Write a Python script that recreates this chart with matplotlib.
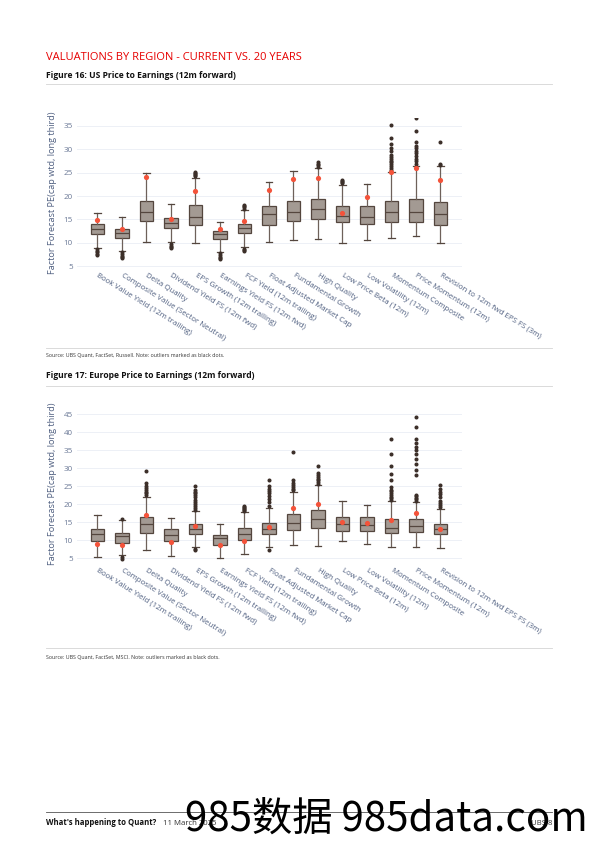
import matplotlib
matplotlib.use('Agg')
import matplotlib.pyplot as plt
from matplotlib.lines import Line2D

plt.rcParams['font.family'] = ['Open Sans', 'DejaVu Sans']

factors = ['Book Value Yield (12m trailing)', 'Composite Value (Sector Neutral)',
           'Delta Quality', 'Dividend Yield FS (12m fwd)', 'EPS Growth (12m trailing)',
           'Earnings Yield FS (12m fwd)', 'FCF Yield (12m trailing)',
           'Float Adjusted Market Cap', 'Fundamental Growth', 'High Quality',
           'Low Price Beta (12m)', 'Low Volatility (12m)', 'Momentum Composite',
           'Price Momentum (12m)', 'Revision to 12m fwd EPS FS (3m)']

# US - 20 year distribution (whisker low, q1, median, q3, whisker high) and current value
us_lo = [8.9, 8.3, 10.2, 10.1, 10.0, 8.1, 9.0, 10.2, 10.5, 10.9, 9.9, 10.6, 11.0, 11.5, 9.9]
us_q1 = [11.9, 11.0, 14.6, 13.1, 13.9, 10.7, 12.1, 13.9, 14.6, 15.0, 14.4, 14.1, 14.4, 14.4, 13.9]
us_med = [12.9, 12.1, 16.6, 14.3, 15.6, 11.8, 13.1, 16.1, 16.6, 17.3, 15.7, 15.6, 16.6, 16.5, 16.1]
us_q3 = [14.1, 12.9, 18.9, 15.4, 18.0, 12.6, 14.1, 17.9, 19.0, 19.4, 17.8, 17.8, 19.0, 19.3, 18.7]
us_hi = [16.4, 15.5, 24.9, 18.4, 23.9, 14.4, 17.0, 23.0, 25.4, 25.9, 22.4, 22.6, 25.1, 26.4, 26.4]
us_now = [14.9, 13.0, 24.1, 15.0, 21.1, 12.9, 14.6, 21.3, 23.6, 23.9, 16.4, 19.7, 25.1, 26.0, 23.4]
us_out = [
    [8.6, 8.3, 8.0, 7.7, 7.4],
    [8.0, 7.6, 7.2, 6.9, 6.7],
    [],
    [9.7, 9.3, 9.0, 8.8],
    [24.2, 24.5, 24.8, 25.0, 25.2],
    [7.8, 7.4, 7.0, 6.8, 6.6],
    [17.3, 17.6, 17.8, 18.0, 8.7, 8.4, 8.2],
    [],
    [],
    [26.3, 26.6, 26.9, 27.2],
    [22.7, 23.0, 23.2, 23.4],
    [],
    [25.6, 26.0, 26.4, 26.8, 27.2, 27.6, 28.0, 28.4, 28.8, 29.6, 30.3, 31.2, 32.5, 35.3],
    [26.8, 27.4, 27.9, 28.6, 29.2, 29.7, 30.2, 30.7, 31.6, 34.0, 36.7],
    [26.6, 26.9, 31.6],
]

# Europe
eu_lo = [5.5, 6.0, 7.4, 5.7, 8.1, 5.0, 6.3, 8.0, 8.6, 8.5, 9.9, 9.1, 8.0, 8.1, 7.8]
eu_q1 = [9.8, 9.2, 12.1, 9.8, 11.7, 8.8, 10.0, 11.8, 12.9, 13.4, 12.7, 12.7, 12.0, 12.2, 11.7]
eu_med = [11.7, 11.1, 14.4, 11.5, 13.1, 10.6, 11.7, 13.1, 14.9, 16.0, 14.6, 14.1, 13.4, 13.9, 13.1]
eu_q3 = [13.0, 11.9, 16.5, 13.1, 14.4, 11.6, 13.5, 14.8, 17.2, 18.5, 16.5, 16.5, 15.8, 15.8, 14.6]
eu_hi = [17.0, 15.6, 22.0, 16.2, 18.1, 14.5, 17.8, 19.0, 23.4, 25.2, 21.0, 19.8, 21.0, 20.6, 18.8]
eu_now = [9.1, 8.7, 17.0, 9.4, 14.0, 8.8, 9.9, 13.7, 19.0, 20.1, 15.2, 14.9, 15.6, 17.5, 13.1]
eu_out = [
    [],
    [16.0, 5.3, 4.9],
    [22.5, 23.0, 23.5, 24.0, 24.5, 25.0, 26.0, 29.1],
    [],
    [18.5, 19.0, 19.5, 20.0, 20.7, 21.3, 22.0, 22.5, 23.0, 23.5, 24.0, 25.0, 7.6, 7.3],
    [],
    [18.1, 18.4, 18.7, 19.0, 19.3, 19.6],
    [19.5, 20.5, 21.5, 22.3, 23.0, 23.6, 24.2, 25.0, 26.7, 7.2],
    [23.8, 24.3, 24.7, 25.2, 25.8, 26.6, 34.6],
    [25.6, 26.1, 26.6, 27.1, 27.6, 28.1, 28.7, 30.6],
    [],
    [],
    [21.2, 21.6, 22.0, 22.5, 23.0, 23.6, 24.0, 24.8, 26.7, 28.5, 30.5, 33.8, 38.0],
    [21.0, 21.4, 21.8, 22.2, 22.6, 28.1, 29.6, 31.1, 32.5, 34.0, 35.0, 35.8, 37.0, 38.2, 41.5, 44.2],
    [19.3, 19.8, 20.3, 21.0, 22.0, 22.8, 23.5, 24.3, 25.4],
]

us_ticks = [5, 10, 15, 20, 25, 30, 35]
eu_ticks = [5, 10, 15, 20, 25, 30, 35, 40, 45]

W, H = 595, 842
fig = plt.figure(figsize=(W / 100, H / 100), dpi=100)

label_col = '#4f5f80'
box_fill = '#a39a93'
box_edge = '#54463e'


def px(x, y):
    return x / W, 1 - y / H


def hline(y, x0=46, x1=552, color='#d4d4d4', lw=0.6):
    fig.add_artist(Line2D([x0 / W, x1 / W], [1 - y / H, 1 - y / H],
                          transform=fig.transFigure, color=color, lw=lw))


def draw_panel(rect, lo, q1, med, q3, hi, now, out, ticks, ylim):
    ax = fig.add_axes(rect)
    stats = []
    for i in range(len(factors)):
        stats.append(dict(whislo=lo[i], q1=q1[i], med=med[i], q3=q3[i],
                          whishi=hi[i], fliers=out[i]))
    pos = list(range(len(factors)))
    ax.bxp(stats, positions=pos, widths=0.55, capwidths=0.27, patch_artist=True,
           boxprops=dict(facecolor=box_fill, edgecolor=box_edge, lw=0.9),
           medianprops=dict(color=box_edge, lw=0.9),
           whiskerprops=dict(color='#6e615a', lw=0.9),
           capprops=dict(color=box_edge, lw=0.9),
           flierprops=dict(marker='o', markersize=1.9, markerfacecolor='#3c2f29',
                           markeredgecolor='#3c2f29'))
    ax.scatter(pos, now, s=14, color='#f4533a', zorder=5, linewidths=0)
    ax.set_xlim(-0.83, 14.88)
    ax.set_ylim(*ylim)
    ax.set_yticks(ticks)
    ax.set_yticklabels([str(t) for t in ticks])
    ax.grid(axis='y', color='#edf0f6', lw=0.7)
    ax.set_axisbelow(True)
    for s in ax.spines.values():
        s.set_visible(False)
    ax.tick_params(axis='both', length=0, labelsize=5.8, labelcolor='#6a7896')
    ax.tick_params(axis='y', pad=3)
    ax.set_xticks(pos)
    ax.set_xticklabels(factors, rotation=-32, ha='left', va='center',
                       rotation_mode='anchor', fontsize=5.7, color=label_col)
    ax.tick_params(axis='x', pad=5)
    ax.set_ylabel('Factor Forecast PE(cap wtd, long third)', fontsize=6.6, color=label_col)
    ax.yaxis.set_label_coords(-0.052, 0.5)
    return ax


# page header
fig.text(*px(46, 60.5), 'VALUATIONS BY REGION - CURRENT VS. 20 YEARS', color='#e60000',
         fontsize=8.0, va='baseline')
fig.text(*px(46, 77.5), 'Figure 16: US Price to Earnings (12m forward)', color='#111111',
         fontsize=6.1, fontweight='bold', va='baseline')
hline(84)

draw_panel([77 / W, 1 - 268 / H, 385 / W, 150 / H],
           us_lo, us_q1, us_med, us_q3, us_hi, us_now, us_out, us_ticks, (4.6, 36.7))

hline(347.5)
fig.text(*px(46, 356.5), 'Source: UBS Quant, FactSet, Russell. Note: outliers marked as black dots.',
         color='#333333', fontsize=3.8, va='baseline')

fig.text(*px(46, 378.5), 'Figure 17: Europe Price to Earnings (12m forward)', color='#111111',
         fontsize=6.1, fontweight='bold', va='baseline')
hline(386)

draw_panel([77 / W, 1 - 563 / H, 385 / W, 158 / H],
           eu_lo, eu_q1, eu_med, eu_q3, eu_hi, eu_now, eu_out, eu_ticks, (3.7, 47.5))

hline(647.5)
fig.text(*px(46, 659), 'Source: UBS Quant, FactSet, MSCI. Note: outliers marked as black dots.',
         color='#333333', fontsize=3.8, va='baseline')

# footer
hline(811.5, color='#555555', lw=0.6)
fig.text(*px(46, 825), "What's happening to Quant?", color='#111111', fontsize=5.6,
         fontweight='bold', va='baseline')
fig.text(*px(163, 825), '11 March 2025', color='#333333', fontsize=5.6, va='baseline')
fig.text(*px(552, 825), 'UBS 8', color='#333333', fontsize=5.6, va='baseline', ha='right')
fig.text(*px(185, 831), '985数据 985data.com', color='black', fontsize=29, va='baseline',
         family=['Noto Sans CJK SC', 'DejaVu Sans'])

fig.savefig('out.png', dpi=100)
